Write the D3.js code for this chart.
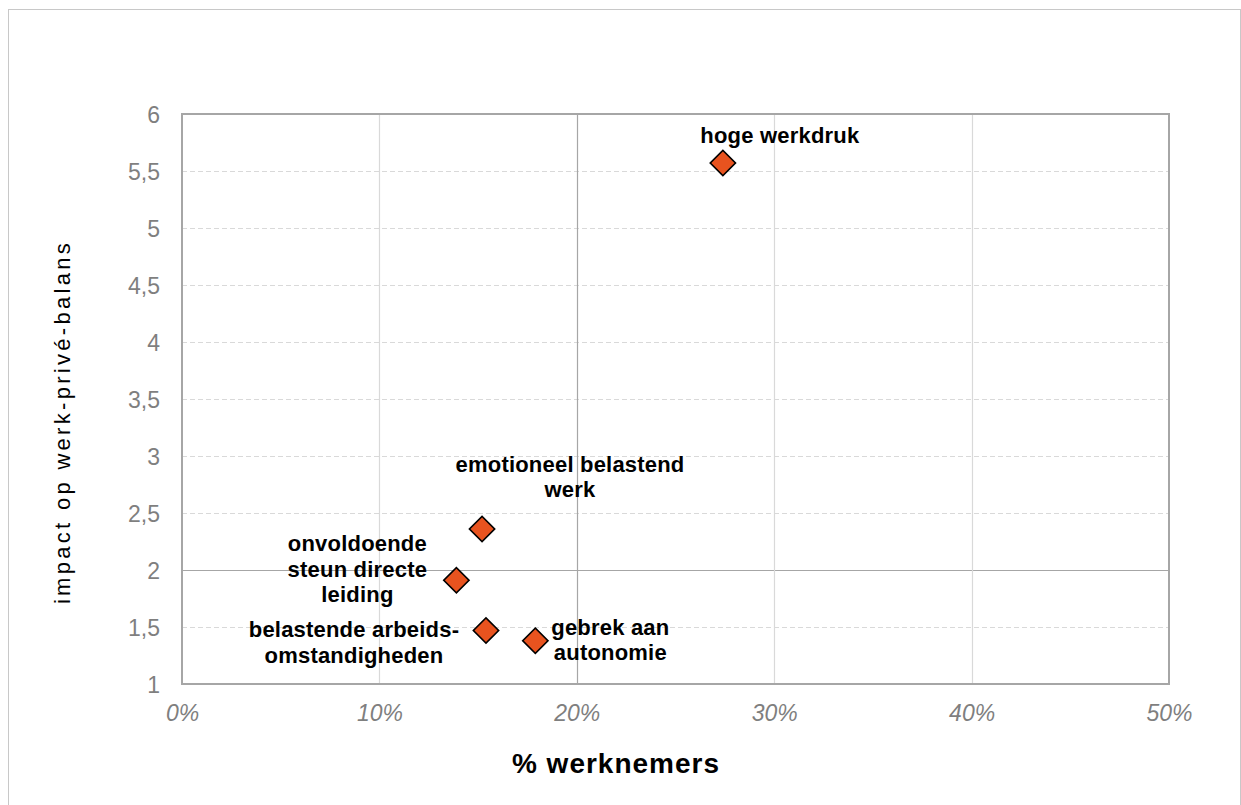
<!DOCTYPE html>
<html>
<head>
<meta charset="utf-8">
<script src="https://cdn.jsdelivr.net/npm/d3@7"></script>
<style>
  html, body { margin: 0; padding: 0; background: #fff; }
  svg { display: block; font-family: "Liberation Sans", Arial, sans-serif; }
</style>
</head>
<body>
<svg id="chart" width="1241" height="805"></svg>
<script>
// ---- data ----
const categories = ["hoge werkdruk", "emotioneel belastend werk", "onvoldoende steun directe leiding", "belastende arbeidsomstandigheden", "gebrek aan autonomie"];
const labelLines = [["hoge werkdruk"], ["emotioneel belastend", "werk"], ["onvoldoende", "steun directe", "leiding"], ["belastende arbeids-", "omstandigheden"], ["gebrek aan", "autonomie"]];
const pctWorkers = [27.4, 15.2, 13.9, 15.4, 17.9];
const impact = [5.57, 2.36, 1.91, 1.47, 1.38];
const xTicks = [0, 10, 20, 30, 40, 50];
const yTicks = [1, 1.5, 2, 2.5, 3, 3.5, 4, 4.5, 5, 5.5, 6];
const xTitle = "% werknemers";
const yTitle = "impact op werk-privé-balans";

// ---- layout (styling, not data) ----
const labelOffsets = [[57, -20], [88, -57], [-99, -29], [-132, 7], [75, -6]];
const lineHeight = 25.5;

const svg = d3.select("#chart");
const plot = { left: 182, right: 1169, top: 114, bottom: 684 };

svg.append("rect").attr("x", 8.5).attr("y", 9.5).attr("width", 1232).attr("height", 820)
  .attr("fill", "#fff").attr("stroke", "#c8c8c8").attr("stroke-width", 1);

const x = d3.scaleLinear().domain([0, 50]).range([plot.left, plot.right]);
const y = d3.scaleLinear().domain([1, 6]).range([plot.bottom, plot.top]);

// horizontal gridlines
const gH = svg.append("g");
yTicks.filter(v => v > 1 && v < 6).forEach(v => {
  const solid = v === 2;
  gH.append("line")
    .attr("x1", plot.left).attr("x2", plot.right)
    .attr("y1", Math.round(y(v)) + 0.5).attr("y2", Math.round(y(v)) + 0.5)
    .attr("stroke", solid ? "#a6a6a6" : "#d9d9d9")
    .attr("stroke-width", 1.2)
    .attr("stroke-dasharray", solid ? null : "5,3");
});
// vertical gridlines
xTicks.filter(v => v > 0 && v < 50).forEach(v => {
  const dark = v === 20;
  gH.append("line")
    .attr("y1", plot.top).attr("y2", plot.bottom)
    .attr("x1", Math.round(x(v)) + 0.5).attr("x2", Math.round(x(v)) + 0.5)
    .attr("stroke", dark ? "#a6a6a6" : "#d9d9d9")
    .attr("stroke-width", 1.2);
});

// plot border
svg.append("rect").attr("x", plot.left).attr("y", plot.top)
  .attr("width", plot.right - plot.left).attr("height", plot.bottom - plot.top)
  .attr("fill", "none").attr("stroke", "#a6a6a6").attr("stroke-width", 2);

// axes via d3
const yAxis = d3.axisLeft(y).tickValues(yTicks).tickSize(0).tickPadding(22)
  .tickFormat(d => String(d).replace(".", ","));
const gy = svg.append("g").attr("transform", `translate(${plot.left},0)`).call(yAxis);
gy.select(".domain").remove();
gy.selectAll("text").attr("font-size", 23).attr("fill", "#7f7f7f")
  .attr("font-family", "Liberation Sans, Arial, sans-serif").attr("dy", "0.36em");

const xAxis = d3.axisBottom(x).tickValues(xTicks).tickSize(0).tickPadding(21)
  .tickFormat(d => d + "%");
const gx = svg.append("g").attr("transform", `translate(0,${plot.bottom})`).call(xAxis);
gx.select(".domain").remove();
gx.selectAll("text").attr("font-size", 23).attr("fill", "#7f7f7f")
  .attr("font-style", "italic").attr("font-family", "Liberation Sans, Arial, sans-serif");

// axis titles
svg.append("text").attr("x", 616).attr("y", 773).attr("text-anchor", "middle")
  .attr("font-size", 28).attr("font-weight", "bold").attr("fill", "#000")
  .attr("letter-spacing", 1).text(xTitle);
svg.append("text").attr("transform", `translate(70,${422}) rotate(-90)`)
  .attr("text-anchor", "middle").attr("font-size", 22).attr("fill", "#000")
  .attr("letter-spacing", 3.3).text(yTitle);

// points
const pts = categories.map((c, i) => ({ c, x: pctWorkers[i], y: impact[i], lines: labelLines[i], off: labelOffsets[i] }));
const diamond = d3.symbol().type(d3.symbolSquare).size(320);
svg.append("g").selectAll("path").data(pts).join("path")
  .attr("d", diamond)
  .attr("transform", d => `translate(${x(d.x)},${y(d.y)}) rotate(45)`)
  .attr("fill", "#e8531f").attr("stroke", "#000").attr("stroke-width", 1.6);

// labels
const gl = svg.append("g");
pts.forEach(d => {
  const t = gl.append("text")
    .attr("text-anchor", "middle").attr("font-size", 22).attr("font-weight", "bold")
    .attr("fill", "#000").attr("letter-spacing", 0.2);
  d.lines.forEach((ln, j) => {
    t.append("tspan").attr("x", x(d.x) + d.off[0]).attr("y", y(d.y) + d.off[1] + j * lineHeight).text(ln);
  });
});
</script>
</body>
</html>
